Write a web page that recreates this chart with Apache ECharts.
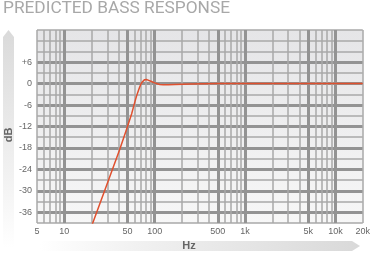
<!DOCTYPE html>
<html><head><meta charset="utf-8">
<script src="https://cdn.jsdelivr.net/npm/echarts@6/dist/echarts.min.js"></script>
<style>html,body{margin:0;padding:0;background:#fff}#c{width:373px;height:264px}</style>
</head><body><div id="c"></div>
<script>
// Data
const freqHz = [20, 30, 40.6, 48, 55.6, 60, 63, 66, 68, 70, 72, 74, 77, 79, 82, 85, 92, 100, 107, 114, 125, 141, 167, 250, 500, 1000, 20000];
const responseDb = [-40, -27.9, -18.8, -13.4, -8.5, -5.4, -3.5, -2.0, -1.1, -0.3, 0.3, 0.7, 1.05, 1.15, 1.12, 1.0, 0.6, 0.2, -0.05, -0.25, -0.35, -0.35, -0.25, -0.1, 0, 0, 0];
// Tick labels
const xLabelFreqs = [5, 10, 50, 100, 500, 1000, 5000, 10000, 20000];
const xLabelText = ['5', '10', '50', '100', '500', '1k', '5k', '10k', '20k'];
const xMajorGridFreqs = [10, 50, 100, 500, 1000, 5000, 10000];
const xMinorGridFreqs = [5, 6, 7, 8, 9, 10, 20, 30, 40, 50, 60, 70, 80, 90, 100, 200, 300, 400, 500, 600, 700, 800, 900,
  1000, 2000, 3000, 4000, 5000, 6000, 7000, 8000, 9000, 10000, 20000];
const yLabelValues = [-36, -30, -24, -18, -12, -6, 0, 6];
const yLabelText = ['-36', '-30', '-24', '-18', '-12', '-6', '0', '+6'];

const L = Math.log10;
const xMin = L(5), xMax = L(20000);
const lineData = freqHz.map((f, i) => [L(f), responseDb[i]]);
const labelMap = {};
xLabelFreqs.forEach((f, i) => { labelMap[L(f).toFixed(6)] = xLabelText[i]; });
const yLabelMap = {};
yLabelValues.forEach((v, i) => { yLabelMap[v] = yLabelText[i]; });

const thin = { color: '#a8a8a8', width: 1.5 };
const thick = { color: '#939393', width: 3 };

const chart = echarts.init(document.getElementById('c'), null, { renderer: 'canvas' });
chart.setOption({
  animation: false,
  backgroundColor: '#fff',
  grid: {
    left: 37, right: 10, top: 30, bottom: 41, show: true, borderWidth: 0,
    backgroundColor: { type: 'linear', x: 0, y: 0, x2: 0, y2: 1, colorStops: [
      { offset: 0, color: '#e5e5e7' }, { offset: 1, color: '#f7f7f7' }] }
  },
  graphic: [
    { type: 'text', left: 3, top: 0, style: { text: 'PREDICTED BASS RESPONSE', font: '17.3px Roboto', fill: '#a8a8a8' } },
    { type: 'polygon', shape: { points: [[3, 37], [8.5, 30], [14, 37], [14, 248], [3, 248]] },
      style: { fill: { type: 'linear', x: 0, y: 0, x2: 0, y2: 1, colorStops: [
        { offset: 0, color: '#dadada' }, { offset: 0.7, color: '#f3f3f3' }, { offset: 1, color: '#ffffff' }] } }, z: -1 },
    { type: 'text', x: 9, y: 135, rotation: Math.PI / 2,
      style: { text: 'dB', font: 'bold 11px "Liberation Sans"', fill: '#666', align: 'center', verticalAlign: 'middle' } },
    { type: 'polygon', shape: { points: [[40, 241], [352, 241], [360, 246], [352, 251], [40, 251]] },
      style: { fill: { type: 'linear', x: 0, y: 0, x2: 1, y2: 0, colorStops: [
        { offset: 0, color: '#ffffff' }, { offset: 0.3, color: '#f1f1f1' }, { offset: 1, color: '#d9d9d9' }] } }, z: -1 },
    { type: 'text', x: 189, y: 246,
      style: { text: 'Hz', font: 'bold 11px "Liberation Sans"', fill: '#666', align: 'center', verticalAlign: 'middle' } }
  ],
  xAxis: [
    { type: 'value', min: xMin, max: xMax,
      axisLine: { show: false },
      axisTick: { show: false, customValues: xMinorGridFreqs.map(L) },
      splitLine: { show: true, lineStyle: thin },
      axisLabel: { customValues: xLabelFreqs.map(L), margin: 4, color: '#666', fontSize: 9, fontFamily: 'Liberation Sans',
        formatter: v => labelMap[v.toFixed(6)] || '' } },
    { type: 'value', min: xMin, max: xMax, position: 'bottom',
      axisLine: { show: false },
      axisTick: { show: false, customValues: xMajorGridFreqs.map(L) },
      splitLine: { show: true, lineStyle: thick },
      axisLabel: { show: false } }
  ],
  yAxis: [
    { type: 'value', min: -39, max: 15, interval: 3,
      axisLine: { show: false }, axisTick: { show: false },
      splitLine: { show: true, lineStyle: thin },
      axisLabel: { customValues: yLabelValues, margin: 5, color: '#666', fontSize: 9, fontFamily: 'Liberation Sans',
        formatter: v => yLabelMap[v] } },
    { type: 'value', min: -39, max: 15,
      axisLine: { show: false },
      axisTick: { show: false, customValues: yLabelValues },
      splitLine: { show: true, lineStyle: thick },
      axisLabel: { show: false } }
  ],
  series: [{
    type: 'line', xAxisIndex: 0, yAxisIndex: 0, data: lineData, smooth: false, showSymbol: false,
    lineStyle: { color: '#e0502e', width: 1.5 }, clip: true, z: 5
  }]
});
</script></body></html>
